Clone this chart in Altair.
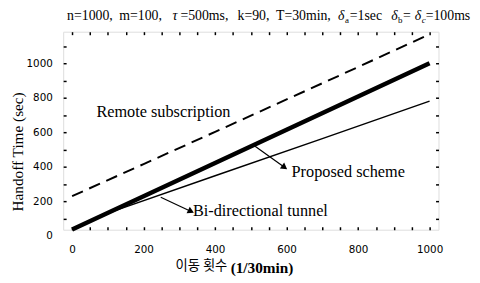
import altair as alt
import pandas as pd

# ---- data ----
remote_x = [0, 200, 400, 600, 800, 1000]
remote = [229, 415, 602, 790, 978, 1168]
proposed_x = [0, 200, 400, 600, 800, 1000]
proposed = [35, 228, 421, 614, 807, 1000]
tunnel_x = [0, 120, 400, 700, 1000]
tunnel = [35, 145, 347, 563, 780]

x_ticks = [0, 200, 400, 600, 800, 1000]
y_ticks = [0, 200, 400, 600, 800, 1000]
x_minor = list(range(0, 1001, 50))
y_minor = list(range(100, 1101, 100))

# annotations (data coordinates)
ann_text = ["Remote subscription", "Proposed scheme", "Bi-directional tunnel"]
ann_x = [68, 614, 338]
ann_y = [714, 371, 143]
arrow_x = [507, 248]
arrow_y = [526, 223]
arrow_x2 = [592, 330]
arrow_y2 = [400, 143]
arrow_angle = [126, 116]

SERIF = "Liberation Serif"
SANS = "DejaVu Sans"

xs = alt.Scale(domain=[-25, 1025], nice=False)
ys = alt.Scale(domain=[0, 1183], range=[207, 0], nice=False)

df_r = pd.DataFrame({"x": remote_x, "y": remote})
df_p = pd.DataFrame({"x": proposed_x, "y": proposed})
df_t = pd.DataFrame({"x": tunnel_x, "y": tunnel})

xax = alt.Axis(values=x_ticks, title=None, domain=False, ticks=False, grid=False, format="d",
               labelFont=SANS, labelFontSize=10.5, labelColor="black", labelPadding=15)
yax = alt.Axis(values=y_ticks, title=None, domain=False, ticks=False, grid=False, format="d",
               labelFont=SANS, labelFontSize=10.5, labelColor="black", labelPadding=11)


def tick_axis(vals, orient):
    return alt.Axis(values=vals, orient=orient, title=None, domain=False, labels=False, grid=False,
                    ticks=True, tickSize=3, tickWidth=1.5, tickColor="black", offset=-3)


NOAX = None

base_r = alt.Chart(df_r).mark_line(color="black", strokeWidth=2, strokeDash=[12, 7]).encode(
    x=alt.X("x:Q", scale=xs, axis=xax), y=alt.Y("y:Q", scale=ys, axis=yax))
line_p = alt.Chart(df_p).mark_line(color="black", strokeWidth=4.5).encode(
    x=alt.X("x:Q", scale=xs, axis=NOAX), y=alt.Y("y:Q", scale=ys, axis=NOAX))
line_t = alt.Chart(df_t).mark_line(color="black", strokeWidth=1.5).encode(
    x=alt.X("x:Q", scale=xs, axis=NOAX), y=alt.Y("y:Q", scale=ys, axis=NOAX))

ticks_a = alt.Chart(df_t).mark_point(opacity=0).encode(
    x=alt.X("x:Q", scale=xs, axis=tick_axis(x_minor, "bottom")),
    y=alt.Y("y:Q", scale=ys, axis=tick_axis(y_minor, "left")))
ticks_b = alt.Chart(df_t).mark_point(opacity=0).encode(
    x=alt.X("x:Q", scale=xs, axis=tick_axis(x_minor, "top")),
    y=alt.Y("y:Q", scale=ys, axis=tick_axis(y_minor, "right")))

df_ann = pd.DataFrame({"t": ann_text, "x": ann_x, "y": ann_y})
ann = alt.Chart(df_ann).mark_text(align="left", baseline="middle", font=SERIF, fontSize=16.5, color="black").encode(
    x=alt.X("x:Q", scale=xs, axis=NOAX), y=alt.Y("y:Q", scale=ys, axis=NOAX), text="t:N")

df_arr = pd.DataFrame({"x": arrow_x, "y": arrow_y, "x2": arrow_x2, "y2": arrow_y2, "a": arrow_angle})
arr_line = alt.Chart(df_arr).mark_rule(color="black", strokeWidth=1.2).encode(
    x=alt.X("x:Q", scale=xs, axis=NOAX), y=alt.Y("y:Q", scale=ys, axis=NOAX), x2="x2:Q", y2="y2:Q")
arr_head = alt.Chart(df_arr).mark_point(shape="triangle", filled=True, color="black", size=55, opacity=1).encode(
    x=alt.X("x2:Q", scale=xs, axis=NOAX), y=alt.Y("y2:Q", scale=ys, axis=NOAX),
    angle=alt.Angle("a:Q", scale=None))

dummy = pd.DataFrame({"a": [0]})


def label(txt, x, y, size=13, font=SERIF, style="normal", align="left", baseline="alphabetic", angle=0, weight="normal"):
    return alt.Chart(dummy).mark_text(text=txt, font=font, fontSize=size, fontStyle=style, align=align,
                                      baseline=baseline, angle=angle, fontWeight=weight, color="black").encode(
        x=alt.value(x), y=alt.value(y))


# title pieces: (text, page-x, baseline, size, style)
T = 14
S = 9
title_parts = [
    ("n=1000,", 68, 18, T, "normal"),
    ("m=100,", 121, 18, T, "normal"),
    ("τ", 175, 18, T, "italic"),
    ("=500ms,", 183, 18, T, "normal"),
    ("k=90,", 241, 18, T, "normal"),
    ("T=30min,", 280, 18, T, "normal"),
    ("δ", 343, 18, T, "italic"),
    ("a", 350, 21, S, "normal"),
    ("=1sec", 355, 18, T, "normal"),
    ("δ", 397, 18, T, "italic"),
    ("b", 404, 21, S, "normal"),
    ("=", 409, 18, T, "normal"),
    ("δ", 421, 18, T, "italic"),
    ("c", 428, 21, S, "italic"),
    ("=100ms", 432, 18, T, "normal"),
]
OX, OY = 64, 30
texts = [label(t, x - OX, y - OY, s, style=st) for (t, x, y, s, st) in title_parts]
texts.append(label("Handoff Time (sec)", 18 - OX, 152 - OY, 15.5, align="center", baseline="middle", angle=270))
texts.append(label("이동 횟수", 178 - OX, 272 - OY, 13.5, font="Noto Sans CJK KR", align="left", baseline="alphabetic"))
texts.append(label("(1/30min)", 234 - OX, 275 - OY, 15.5, align="left", baseline="alphabetic", weight="bold"))

chart = alt.layer(base_r, ticks_a, ticks_b, line_t, line_p, arr_line, arr_head, ann, *texts).resolve_axis(
    x="independent", y="independent"
).properties(
    width=381, height=201,
    autosize=alt.AutoSizeParams(type="none"),
    padding={"left": 56, "top": 22, "right": 34, "bottom": 50},
).configure_view(stroke="black", strokeWidth=2).configure(background="white")

chart.save("out.html", embed_options={"renderer": "svg", "actions": False})
